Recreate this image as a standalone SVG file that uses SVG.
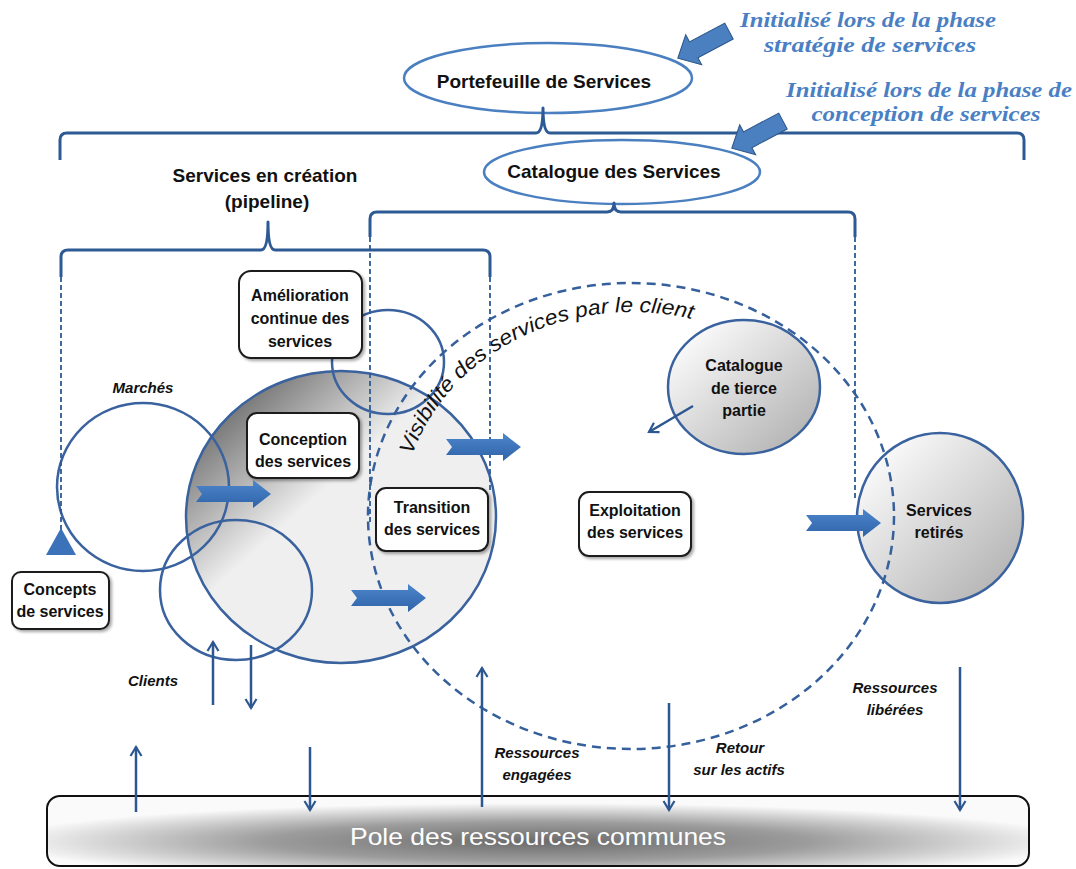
<svg xmlns="http://www.w3.org/2000/svg" width="1076" height="869" viewBox="0 0 1076 869">
<style>
.ttl{font-family:"Liberation Sans",Arial,sans-serif;font-weight:bold;font-size:19px;fill:#111;text-anchor:middle}
.box{font-family:"Liberation Sans",Arial,sans-serif;font-weight:bold;font-size:16px;fill:#111;text-anchor:middle}
.lbl{font-family:"Liberation Sans",Arial,sans-serif;font-weight:bold;font-style:italic;font-size:15px;fill:#111;text-anchor:middle}
.blue{font-family:"Liberation Serif","Times New Roman",serif;font-weight:bold;font-style:italic;font-size:22px;fill:#4a7fc4;text-anchor:middle}
.circ{fill:none;stroke:#3a629e;stroke-width:2.5}
.rbox{fill:#fff;stroke:#1a1a1a;stroke-width:2;filter:url(#sh)}
.brace{fill:none;stroke:#2d5a94;stroke-width:3;stroke-linejoin:round}
.dv{fill:none;stroke:#2d5a94;stroke-width:1.8;stroke-dasharray:5,3}
.thin{fill:none;stroke:#2d5791;stroke-width:2.5;marker-end:url(#ah)}
.blk{fill:url(#bg)}
.diag{fill:#4a7fc0;stroke:#2c5587;stroke-width:1}
</style>
<defs>
<filter id="sh" x="-20%" y="-20%" width="140%" height="140%"><feDropShadow dx="2" dy="2" stdDeviation="1.5" flood-color="#000" flood-opacity="0.35"/></filter>
<linearGradient id="bigg" gradientUnits="userSpaceOnUse" x1="200" y1="420" x2="290" y2="520"><stop offset="0" stop-color="#6a6a6a"/><stop offset="1" stop-color="#efefef"/></linearGradient>
<linearGradient id="cg" x1="0" y1="0" x2="1" y2="1"><stop offset="0.15" stop-color="#f8f8f8"/><stop offset="1" stop-color="#aaaaaa"/></linearGradient>
<radialGradient id="pg" cx="0.5" cy="0.65" r="0.55"><stop offset="0" stop-color="#6b6b6b"/><stop offset="0.5" stop-color="#9c9c9c"/><stop offset="1" stop-color="#fafafa"/></radialGradient>
<linearGradient id="bg" x1="0" y1="0" x2="0" y2="1"><stop offset="0" stop-color="#4d86cc"/><stop offset="1" stop-color="#2f63a8"/></linearGradient>
<marker id="ah" markerUnits="userSpaceOnUse" markerWidth="14" markerHeight="14" viewBox="0 0 14 14" refX="12" refY="7" orient="auto"><path d="M3,1.5 L12,7 L3,12.5" fill="none" stroke="#2d5791" stroke-width="2.2"/></marker>
<path id="rarrow" d="M0,-8 L57,-8 L57,-14 L75,0 L57,14 L57,8 L0,8 L6,0 Z"/>
<path id="darrow" d="M0,-9 L40,-9 L40,-17 L58,0 L40,17 L40,9 L0,9 Z"/>
<path id="visArc" d="M402,515 A230,203 0 0 1 862,515"/>
</defs>

<!-- big gradient circle -->
<g id="conception-circle"><ellipse cx="341" cy="517" rx="155" ry="146" fill="url(#bigg)" stroke="#3a629e" stroke-width="2.5"/></g>
<g id="marches-circle"><ellipse class="circ" cx="143" cy="487" rx="86" ry="84"/><text class="lbl" x="143" y="393">Marchés</text></g>
<g id="clients-circle"><ellipse class="circ" cx="236" cy="590" rx="76" ry="70"/><text class="lbl" x="153" y="686">Clients</text></g>
<g id="amelioration-circle"><ellipse class="circ" cx="388" cy="362" rx="56" ry="52"/></g>
<g id="catalogue-tierce"><ellipse cx="744" cy="387" rx="76" ry="67" fill="url(#cg)" stroke="#3a629e" stroke-width="2.5"/>
<text class="box" x="744" y="371">Catalogue</text><text class="box" x="744" y="394">de tierce</text><text class="box" x="744" y="416">partie</text></g>
<g id="services-retires"><ellipse cx="940" cy="518" rx="83" ry="85" fill="url(#cg)" stroke="#3a629e" stroke-width="2.5"/>
<text class="box" x="939" y="516">Services</text><text class="box" x="939" y="538">retirés</text></g>

<g id="visibilite">
<ellipse cx="631" cy="516" rx="263" ry="233" fill="none" stroke="#36609c" stroke-width="2.5" stroke-dasharray="9,6"/>
<text font-family="'Liberation Sans',Arial,sans-serif" font-style="italic" font-size="21" fill="#111"><textPath href="#visArc" startOffset="61" textLength="340" lengthAdjust="spacingAndGlyphs">Visibilité des services par le client</textPath></text>
</g>

<!-- top ellipses -->
<g id="portefeuille"><ellipse cx="548" cy="78" rx="144" ry="35" fill="#fff" stroke="#4a7fc0" stroke-width="2.5"/><text class="ttl" x="544" y="88">Portefeuille de Services</text></g>
<g id="catalogue"><ellipse cx="622" cy="172" rx="138" ry="32" fill="#fff" stroke="#4a7fc0" stroke-width="2.5"/><text class="ttl" x="614" y="178">Catalogue des Services</text></g>

<g id="blue-notes">
<text class="blue" x="868" y="27" textLength="256" lengthAdjust="spacingAndGlyphs">Initialisé lors de la phase</text>
<text class="blue" x="870" y="52" textLength="212" lengthAdjust="spacingAndGlyphs">stratégie de services</text>
<text class="blue" x="929" y="97" textLength="286" lengthAdjust="spacingAndGlyphs">Initialisé lors de la phase de</text>
<text class="blue" x="926" y="121" textLength="229" lengthAdjust="spacingAndGlyphs">conception de services</text>
</g>

<g id="pipeline-label"><text class="ttl" x="265" y="182">Services en création</text><text class="ttl" x="267" y="208">(pipeline)</text></g>

<!-- boxes -->
<g id="amelioration"><rect class="rbox" x="239" y="271" width="123" height="87" rx="12"/><text class="box" x="300" y="301">Amélioration</text><text class="box" x="300" y="324">continue des</text><text class="box" x="300" y="347">services</text></g>
<g id="conception"><rect class="rbox" x="247" y="413" width="112" height="65" rx="10"/><text class="box" x="303" y="445">Conception</text><text class="box" x="303" y="467">des services</text></g>
<g id="transition"><rect class="rbox" x="376" y="488" width="112" height="63" rx="10"/><text class="box" x="432" y="513">Transition</text><text class="box" x="432" y="535">des services</text></g>
<g id="exploitation"><rect class="rbox" x="579" y="492" width="112" height="64" rx="10"/><text class="box" x="635" y="516">Exploitation</text><text class="box" x="635" y="538">des services</text></g>
<g id="concepts"><rect class="rbox" x="12" y="572" width="97" height="57" rx="9"/><text class="box" x="60" y="595">Concepts</text><text class="box" x="60" y="617">de services</text></g>

<g id="pole"><rect x="47" y="796" width="982" height="70" rx="13" fill="url(#pg)" stroke="#111" stroke-width="2"/>
<text x="538" y="845" font-family="'Liberation Sans',Arial,sans-serif" font-size="24" fill="#fff" text-anchor="middle" textLength="376" lengthAdjust="spacingAndGlyphs">Pole des ressources communes</text></g>

<g id="labels">
<text class="lbl" x="537" y="758">Ressources</text><text class="lbl" x="537" y="780">engagées</text>
<text class="lbl" x="740" y="753">Retour</text><text class="lbl" x="739" y="775">sur les actifs</text>
<text class="lbl" x="895" y="693">Ressources</text><text class="lbl" x="895" y="715">libérées</text>
</g>

<g id="connectors">
<path class="brace" d="M60,160 L60,140 Q60,133 67,133 L536,133 Q543,133 543,108 Q543,133 550,133 L1017,133 Q1024,133 1024,140 L1024,160"/>
<path class="brace" d="M370,237 L370,219 Q370,212 377,212 L607,212 Q614,212 614,203 Q614,212 621,212 L848,212 Q855,212 855,219 L855,237"/>
<path class="brace" d="M61,277 L61,257 Q61,250 68,250 L261,250 Q268,250 268,222 Q268,250 275,250 L483,250 Q490,250 490,257 L490,277"/>
<line class="dv" x1="61" y1="277" x2="61" y2="530"/>
<line class="dv" x1="490" y1="277" x2="490" y2="490"/>
<line class="dv" x1="370" y1="237" x2="370" y2="525"/>
<line class="dv" x1="855" y1="237" x2="855" y2="500"/>
<polygon points="61,528 46,555 76,555" fill="#3b72ba"/>
<use href="#rarrow" class="blk" transform="translate(196,494)"/>
<use href="#rarrow" class="blk" transform="translate(446,447)"/>
<use href="#rarrow" class="blk" transform="translate(351,598)"/>
<use href="#rarrow" class="blk" transform="translate(806,523)"/>
<use href="#darrow" class="diag" transform="translate(729,31) rotate(152)"/>
<use href="#darrow" class="diag" transform="translate(783,121) rotate(152)"/>
<line class="thin" x1="213" y1="705" x2="213" y2="642"/>
<line class="thin" x1="251" y1="645" x2="251" y2="708"/>
<line class="thin" x1="136" y1="812" x2="136" y2="747"/>
<line class="thin" x1="310" y1="747" x2="310" y2="810"/>
<line class="thin" x1="482" y1="807" x2="482" y2="668"/>
<line class="thin" x1="669" y1="703" x2="669" y2="810"/>
<line class="thin" x1="960" y1="667" x2="960" y2="810"/>
<line class="thin" x1="693" y1="406" x2="649" y2="432"/>
</g>
</svg>
